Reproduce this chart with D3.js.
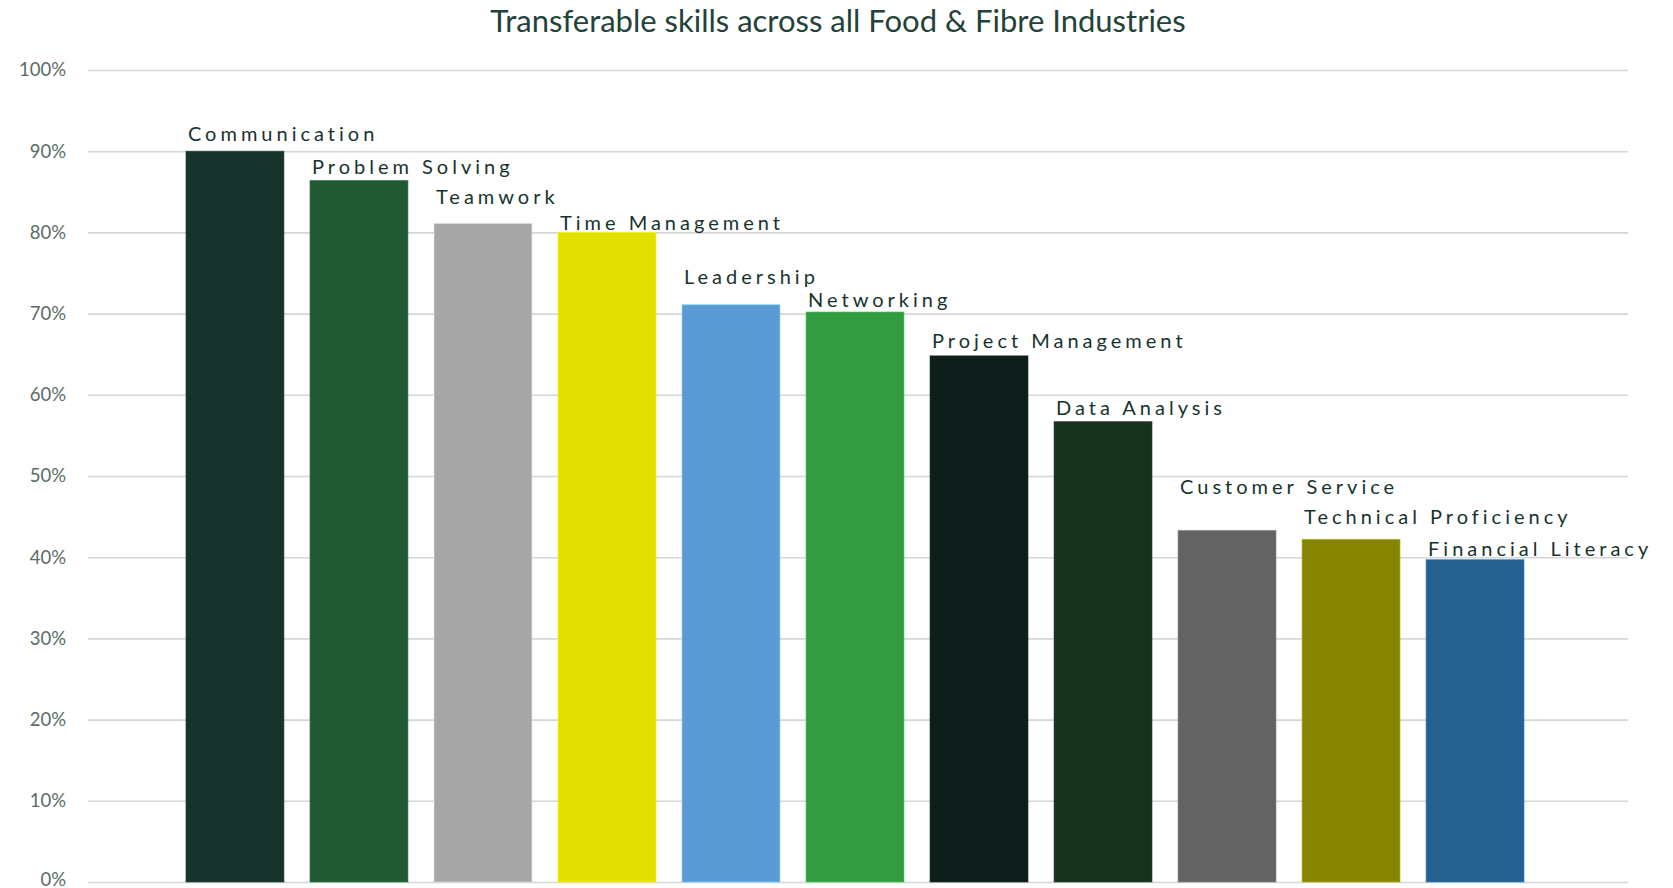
<!DOCTYPE html>
<html>
<head>
<meta charset="utf-8">
<script src="https://cdn.jsdelivr.net/npm/d3@7"></script>
<style>
  body { margin: 0; background: #fff; }
  text { font-family: Lato, "Open Sans", sans-serif; }
</style>
</head>
<body>
<div id="chart"></div>
<script>
const skills = ["Communication", "Problem Solving", "Teamwork", "Time Management", "Leadership",
  "Networking", "Project Management", "Data Analysis", "Customer Service",
  "Technical Proficiency", "Financial Literacy"]
const shares = [0.90, 0.864, 0.811, 0.80, 0.711, 0.702, 0.648, 0.567, 0.433, 0.422, 0.397]
const barColors = ["#16332c", "#225935", "#a6a6a6", "#e2e000", "#5b9bd5", "#339b42",
  "#0e1f1b", "#17331f", "#636363", "#858500", "#256091"]
const yTicks = [0, 0.1, 0.2, 0.3, 0.4, 0.5, 0.6, 0.7, 0.8, 0.9, 1.0]

const canvasWidth = 1673
const canvasHeight = 888
const plot = {left: 88, right: 1628, top: 70, bottom: 882}
// how far each label's baseline sits above its bar (px) - labels were nudged to avoid overlap
const labelLift = [10, 6, 19, 2.5, 21, 5, 8, 7, 36, 15, 4]

const svg = d3.select("#chart").append("svg")
    .attr("width", canvasWidth)
    .attr("height", canvasHeight)

// scales (bars sit in a slightly narrower band than the gridlines)
const x = d3.scaleBand()
    .domain(skills)
    .range([plot.left, plot.right - 6])
    .paddingInner(0.21)
    .paddingOuter(0.79)
const y = d3.scaleLinear()
    .domain([0, 1])
    .range([plot.bottom, plot.top])

// title
svg.append("text")
    .attr("x", 838)
    .attr("y", 32)
    .attr("text-anchor", "middle")
    .attr("font-size", 31)
    .attr("fill", "#22423a")
    .text("Transferable skills across all Food & Fibre Industries")

// gridlines + y labels
const yAxis = svg.append("g")
    .attr("transform", "translate(" + plot.left + ",0)")
    .call(d3.axisLeft(y)
        .tickValues(yTicks)
        .tickSize(-(plot.right - plot.left))
        .tickPadding(22)
        .tickFormat(d3.format(".0%")))
yAxis.select(".domain").remove()
yAxis.selectAll(".tick line").attr("stroke", "#d6d6d6").attr("stroke-width", 1.6)
yAxis.selectAll(".tick text")
    .attr("font-size", 18.5)
    .attr("fill", "#5a6d65")
    .attr("font-family", "Lato, sans-serif")
    .attr("dy", d => d === 0 ? "0.2em" : "0.32em")

const data = skills.map((s, i) => ({skill: s, value: shares[i], color: barColors[i], lift: labelLift[i]}))

// bars
svg.selectAll("rect.bar")
    .data(data)
    .enter()
    .append("rect")
    .attr("class", "bar")
    .attr("x", d => x(d.skill))
    .attr("y", d => y(d.value))
    .attr("width", x.bandwidth())
    .attr("height", d => y(0) - y(d.value))
    .attr("fill", d => d.color)
    .attr("stroke", d => d3.color(d.color).brighter(0.9))
    .attr("stroke-opacity", 0.6)
    .attr("stroke-width", 1)

// labels above bars
svg.selectAll("text.label")
    .data(data)
    .enter()
    .append("text")
    .attr("class", "label")
    .attr("x", d => x(d.skill) + 2)
    .attr("y", d => y(d.value) - d.lift)
    .attr("font-size", 20)
    .attr("letter-spacing", 4)
    .attr("fill", "#16332c")
    .text(d => d.skill)
</script>
</body>
</html>
